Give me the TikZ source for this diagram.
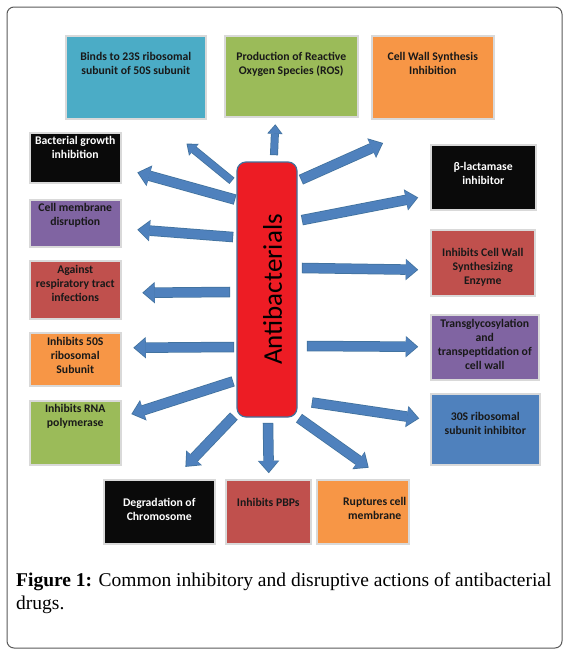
\documentclass[tikz,border=0pt]{standalone}
\usepackage{fontspec}
\setmainfont{Carlito}
\newfontfamily\capfont{Liberation Serif}
\usetikzlibrary{arrows.meta}
\definecolor{cyanbox}{HTML}{4BACC6}
\definecolor{greenbox}{HTML}{9BBB59}
\definecolor{orangebox}{HTML}{F79646}
\definecolor{purplebox}{HTML}{8064A2}
\definecolor{redbox}{HTML}{C0504D}
\definecolor{bluebox}{HTML}{4F81BD}
\definecolor{blackbox}{HTML}{0A0A0A}
\definecolor{antired}{HTML}{ED1C24}
\definecolor{antiedge}{HTML}{41719C}
\definecolor{arrowblue}{HTML}{4F81BD}
\definecolor{arrowedge}{HTML}{41719C}

\begin{document}
\begin{tikzpicture}[
    x=1pt, y=-1pt,
    box/.style={rectangle, draw=black!15, line width=1.5pt, anchor=north west, inner sep=0pt},
    lbl/.style={anchor=north, inner sep=0pt, align=center, text=black!90, font=\bfseries\fontsize{11.7}{14}\selectfont},
    antibox/.style={rectangle, rounded corners=9pt, fill=antired, draw=antiedge, line width=1.2pt, minimum width=60pt, minimum height=255pt},
    antitext/.style={rotate=90, inner sep=0pt, font=\fontsize{27}{30}\selectfont},
    barrow/.style={draw=arrowblue, line width=9pt, -{Triangle[length=11pt,width=19pt,line width=0pt 0 0]},
        preaction={draw=arrowedge, line width=10.5pt, shorten <=-0.75pt, shorten >=-1.2pt, -{Triangle[length=12.5pt,width=21.5pt,line width=0pt 0 0]}}},
    tharrow/.style={draw=arrowblue, line width=6.5pt, -{Triangle[length=8pt,width=13pt,line width=0pt 0 0]},
        preaction={draw=arrowedge, line width=8pt, shorten <=-0.75pt, shorten >=-1.2pt, -{Triangle[length=9.5pt,width=15.5pt,line width=0pt 0 0]}}},
    frame/.style={draw=black!65, line width=1pt, rounded corners=7pt},
    caption/.style={anchor=north west, inner sep=0pt, align=left, font=\capfont\fontsize{19.5}{23}\selectfont}
]
\useasboundingbox (0,0) rectangle (573,659);
\draw[frame] (7,7) rectangle (562,648);

\node[box, fill=cyanbox, minimum width=140pt, minimum height=83pt,
    label={[lbl,shift={(0,16.7)}]north:{Binds to 23S ribosomal\\subunit of 50S subunit}}] (bind) at (65,35) {};
\node[box, fill=greenbox, minimum width=133pt, minimum height=81pt,
    label={[lbl,shift={(0,16.7)}]north:{Production of Reactive\\Oxygen Species (ROS)}}] (ros) at (224,35) {};
\node[box, fill=orangebox, minimum width=122pt, minimum height=83pt,
    label={[lbl,shift={(0,16.7)}]north:{Cell Wall Synthesis\\Inhibition}}] (cws) at (371,35) {};

\node[box, fill=blackbox, minimum width=91pt, minimum height=50pt,
    label={[lbl,text=white,shift={(0,3.7)}]north:{Bacterial growth\\inhibition}}] (growth) at (29,132) {};
\node[box, fill=purplebox, minimum width=91pt, minimum height=47pt,
    label={[lbl,shift={(0,3.7)}]north:{Cell membrane\\disruption}}] (memb) at (29,199) {};
\node[box, fill=redbox, minimum width=91pt, minimum height=58pt,
    label={[lbl,shift={(0,4.7)}]north:{Against\\respiratory tract\\infections}}] (resp) at (29,260) {};
\node[box, fill=orangebox, minimum width=91pt, minimum height=53pt,
    label={[lbl,shift={(0,4.7)}]north:{Inhibits 50S\\ribosomal\\Subunit}}] (fifty) at (29,332) {};
\node[box, fill=greenbox, minimum width=91pt, minimum height=64pt,
    label={[lbl,shift={(0,3.7)}]north:{Inhibits RNA\\polymerase}}] (rna) at (29,400) {};

\node[box, fill=blackbox, minimum width=105pt, minimum height=65pt,
    label={[lbl,text=white,shift={(0,17.7)}]north:{β-lactamase\\inhibitor}}] (blac) at (430,144) {};
\node[box, fill=redbox, minimum width=104pt, minimum height=66pt,
    label={[lbl,shift={(0,18.7)}]north:{Inhibits Cell Wall\\Synthesizing\\Enzyme}}] (cwenz) at (430,229) {};
\node[box, fill=purplebox, minimum width=108pt, minimum height=65pt,
    label={[lbl,shift={(0,4.7)}]north:{Transglycosylation\\and\\transpeptidation of\\cell wall}}] (trans) at (430,314) {};
\node[box, fill=bluebox, minimum width=109pt, minimum height=71pt,
    label={[lbl,shift={(0,18.7)}]north:{30S ribosomal\\subunit inhibitor}}] (thirty) at (430,393) {};

\node[box, fill=blackbox, minimum width=111pt, minimum height=64pt,
    label={[lbl,text=white,shift={(0,18.7)}]north:{Degradation of\\Chromosome}}] (degr) at (103,479) {};
\node[box, fill=redbox, minimum width=85pt, minimum height=64pt,
    label={[lbl,shift={(0,18.7)}]north:{Inhibits PBPs}}] (pbp) at (225,479) {};
\node[box, fill=orangebox, minimum width=92pt, minimum height=64pt,
    label={[lbl,shift={(12,17.7)}]north:{Ruptures cell\\membrane}}] (rupt) at (316,479) {};

\node[antibox] (anti) at (267,289.5) {};
\node[antitext] (antitxt) at (272.5,289.5) {Antibacterials};

\draw[tharrow] ([shift={(-5,19)}]anti.north west) -- ([shift={(-19,25)}]bind.south east);
\draw[tharrow] ([shift={(7,-7)}]anti.north) -- ([shift={(-16,8)}]ros.south);
\draw[barrow] ([shift={(4,18)}]anti.north east) -- ([shift={(11,24)}]cws.south west);
\draw[barrow] ([shift={(-2,38)}]anti.north west) -- ([shift={(17,15)}]growth.east);
\draw[barrow] ([shift={(-4,-52.5)}]anti.west) -- ([shift={(17,6.5)}]memb.east);
\draw[barrow] ([shift={(-7,2.5)}]anti.west) -- ([shift={(22,3)}]resp.east);
\draw[barrow] ([shift={(-3,57.5)}]anti.west) -- ([shift={(13,-11.5)}]fifty.east);
\draw[barrow] ([shift={(-4,-36)}]anti.south west) -- ([shift={(11,-19)}]rna.east);
\draw[barrow] ([shift={(-3,-1)}]anti.south west) -- ([shift={(27,-13)}]degr.north);
\draw[barrow] ([shift={(1,6)}]anti.south) -- ([shift={(0.5,-7)}]pbp.north);
\draw[barrow] ([shift={(2,1)}]anti.south east) -- ([shift={(5,-12)}]rupt.north);
\draw[barrow] ([shift={(15,-15)}]anti.south east) -- ([shift={(-12,-11)}]thirty.west);
\draw[barrow] ([shift={(10,56.5)}]anti.east) -- ([shift={(-13,-0.5)}]trans.west);
\draw[barrow] ([shift={(5,-21.5)}]anti.east) -- ([shift={(-13,7)}]cwenz.west);
\draw[barrow] ([shift={(5,-69.5)}]anti.east) -- ([shift={(-13,20.5)}]blac.west);

\node[caption] (cap) at (16,573) {\textbf{Figure 1:} Common inhibitory and disruptive actions of antibacterial\\drugs.};
\end{tikzpicture}
\end{document}
